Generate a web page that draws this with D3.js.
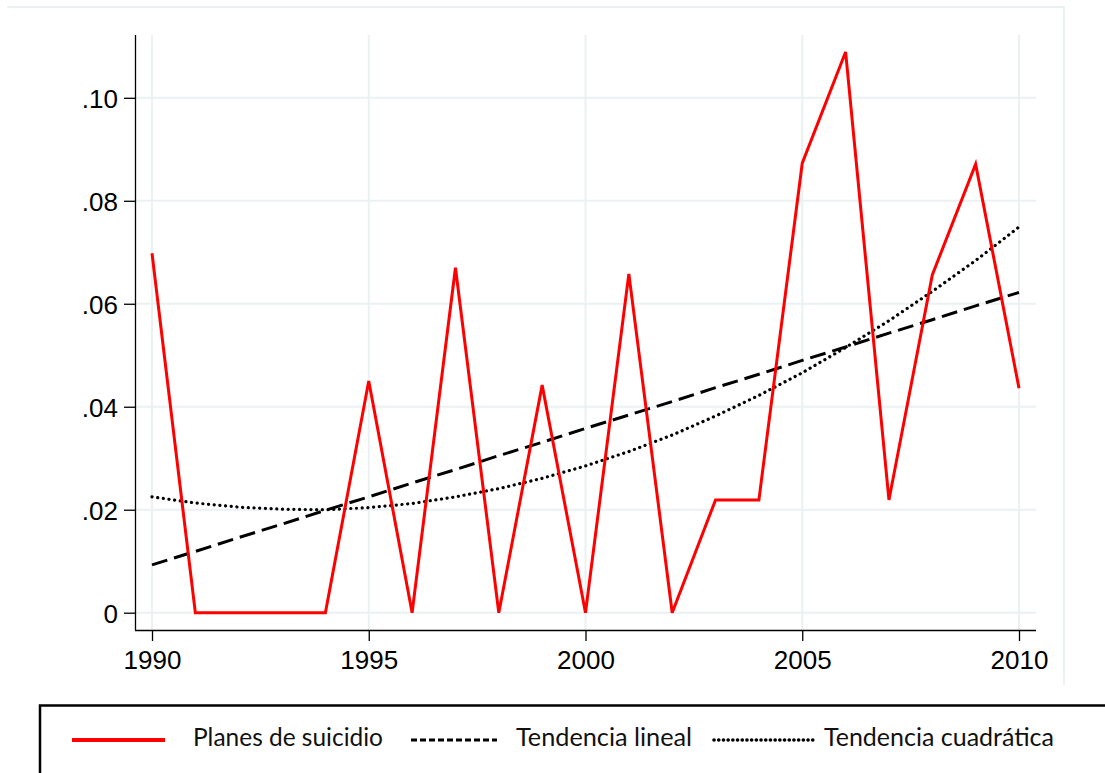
<!DOCTYPE html>
<html>
<head>
  <title>Planes de suicidio</title>
  <script src="https://d3js.org/d3.v7.min.js"></script>
  <style>
    body { margin: 0; background: white; }
    svg { display: block; }
    .tick text { font-family: "Liberation Sans", Arial, sans-serif; font-size: 26px; fill: black; }
    .legend text { font-family: Lato, "Open Sans", sans-serif; font-size: 25px; fill: #111; }
  </style>
</head>
<body>
<svg id="chart" width="1105" height="773"></svg>
<script>
  var years = d3.range(1990, 2011);
  var planes = [0.0698, 0, 0, 0, 0, 0.0450, 0, 0.0670, 0, 0.0442, 0, 0.0658, 0,
                0.0219, 0.0219, 0.0873, 0.1089, 0.0219, 0.0656, 0.0871, 0.0436];
  var lineal = [0.0093, 0.0119, 0.0146, 0.0172, 0.0199, 0.0225, 0.0252, 0.0278,
                0.0305, 0.0331, 0.0358, 0.0384, 0.0410, 0.0437, 0.0463, 0.0490,
                0.0516, 0.0543, 0.0569, 0.0596, 0.0622];
  var cuadratica = [0.0225, 0.0213, 0.0205, 0.0201, 0.0200, 0.0204, 0.0212, 0.0225,
                    0.0241, 0.0261, 0.0285, 0.0313, 0.0345, 0.0382, 0.0422, 0.0466,
                    0.0515, 0.0567, 0.0624, 0.0684, 0.0749];
  var yTicks = [0, 0.02, 0.04, 0.06, 0.08, 0.10];
  var xTicks = [1990, 1995, 2000, 2005, 2010];
  var legendLabels = ["Planes de suicidio", "Tendencia lineal", "Tendencia cuadrática"];

  var svg = d3.select("#chart");
  var plotL = 135, plotR = 1036, plotT = 35, plotB = 630;

  var x = d3.scaleLinear([1990, 2010], [152, 1019]);
  var y = d3.scaleLinear([0, 0.10], [612.7, 97.8]);

  // light outer frame
  svg.append("path")
    .attr("d", "M7,7H1064V685")
    .attr("fill", "none")
    .attr("stroke", "#eaf1f3")
    .attr("stroke-width", 2);

  // grid
  svg.append("g").selectAll("line").data(yTicks).join("line")
    .attr("x1", plotL).attr("x2", plotR)
    .attr("y1", d => y(d)).attr("y2", d => y(d))
    .attr("stroke", "#eaf1f3").attr("stroke-width", 2);
  svg.append("g").selectAll("line").data(xTicks).join("line")
    .attr("y1", plotT).attr("y2", plotB)
    .attr("x1", d => x(d)).attr("x2", d => x(d))
    .attr("stroke", "#eaf1f3").attr("stroke-width", 2);

  // axes
  var yAxis = svg.append("g")
    .attr("transform", `translate(${plotL},0)`)
    .call(d3.axisLeft(y).tickValues(yTicks).tickSize(11).tickPadding(6)
      .tickFormat(d => d == 0 ? "0" : d3.format(".2f")(d).replace(/^0/, "")));
  yAxis.select(".domain").attr("d", `M0.5,${plotT}V${plotB}`).attr("stroke", "black").attr("stroke-width", 1.3);
  yAxis.selectAll(".tick line").attr("stroke-width", 1.3);
  yAxis.selectAll(".tick text").attr("dy", "0.36em");

  var xAxis = svg.append("g")
    .attr("transform", `translate(0,${plotB})`)
    .call(d3.axisBottom(x).tickValues(xTicks).tickSize(11).tickPadding(10).tickFormat(d3.format("d")));
  xAxis.select(".domain").attr("d", `M${plotL},0.5H${plotR}`).attr("stroke", "black").attr("stroke-width", 1.3);
  xAxis.selectAll(".tick line").attr("stroke-width", 1.3);

  var line = d3.line().x((d, i) => x(years[i])).y(d => y(d));

  svg.append("path").datum(cuadratica)
    .attr("d", line).attr("fill", "none")
    .attr("stroke", "black").attr("stroke-width", 3.2)
    .attr("stroke-linecap", "round")
    .attr("stroke-dasharray", "0.1 5.6");

  svg.append("path").datum(lineal)
    .attr("d", line).attr("fill", "none")
    .attr("stroke", "black").attr("stroke-width", 3)
    .attr("stroke-dasharray", "16 7");

  svg.append("path").datum(planes)
    .attr("d", line).attr("fill", "none")
    .attr("stroke", "#ff0000").attr("stroke-width", 3)
    .attr("stroke-linejoin", "miter");

  // legend
  var lg = svg.append("g").attr("class", "legend");
  lg.append("path")
    .attr("d", "M40,785V705.5H1110")
    .attr("fill", "none").attr("stroke", "black").attr("stroke-width", 2.5);

  var items = [
    {x1: 72, x2: 165, tx: 193, tw: 190, stroke: "#ff0000", dash: null, w: 4, cap: "butt"},
    {x1: 411, x2: 497, tx: 516, tw: 176, stroke: "black", dash: "6 3", w: 3, cap: "butt"},
    {x1: 714, x2: 817, tx: 824, tw: 230, stroke: "black", dash: "0.1 4.6", w: 3.6, cap: "round"}
  ];
  items.forEach((it, i) => {
    lg.append("line")
      .attr("x1", it.x1).attr("x2", it.x2).attr("y1", 740).attr("y2", 740)
      .attr("stroke", it.stroke).attr("stroke-width", it.w)
      .attr("stroke-linecap", it.cap)
      .attr("stroke-dasharray", it.dash);
    lg.append("text")
      .attr("x", it.tx).attr("y", 746)
      .attr("textLength", it.tw).attr("lengthAdjust", "spacingAndGlyphs")
      .text(legendLabels[i]);
  });
</script>
</body>
</html>
